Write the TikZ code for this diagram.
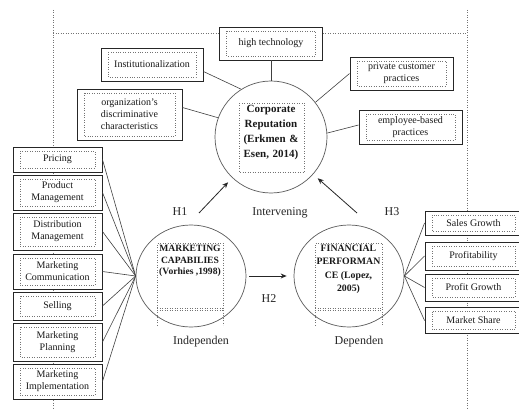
\documentclass[tikz,border=0pt]{standalone}
\usepackage{fontspec}
\setmainfont{Liberation Serif}
\usetikzlibrary{arrows.meta,shapes.geometric}
\begin{document}
\begin{tikzpicture}[x=1pt,y=-1pt,
  box/.style={draw=black!85, fill=white, line width=0.9pt, inner sep=1pt, align=center,
    font=\fontsize{10}{12}\selectfont, text=black!90,
    path picture={\draw[black!55, line width=0.45pt, dotted]
      ([xshift=7pt,yshift=-4pt]path picture bounding box.north west) rectangle
      ([xshift=-7pt,yshift=4pt]path picture bounding box.south east);}},
  sz/.style 2 args={minimum width=#1, minimum height=#2},
  link/.style={draw=black!75, line width=0.6pt},
  circ/.style={draw=black!65, line width=0.7pt, inner sep=0pt},
  dframe/.style={draw=black!55, dotted, line width=0.5pt},
  arr/.style={draw=black!85, line width=0.8pt, -{Stealth[length=6pt,width=5pt]}},
  lbl/.style={font=\fontsize{12}{14}\selectfont, text=black!85},
  ctext/.style={font=\bfseries\fontsize{11}{15}\selectfont, text=black!90, align=center, inner sep=0pt},
  stext/.style={font=\bfseries\fontsize{9.6}{11.5}\selectfont, text=black!90, align=center, inner sep=0pt}
]
\useasboundingbox (0,0) rectangle (519,409);

% dotted outer frame
\coordinate (fl1) at (53,10);
\coordinate (fl2) at (53,409);
\coordinate (fr1) at (467,10);
\coordinate (fr2) at (467,409);
\coordinate (ftl) at (53,33);
\coordinate (ftr) at (467,33);
\draw[dframe] (fl1) -- (fl2);
\draw[dframe] (fr1) -- (fr2);

% top boxes
\node[box, sz={103pt}{33pt}] (ht) at (271,43.5) {high technology};
\node[box, sz={102pt}{33pt}] (inst) at (152,64.5) {Institutionalization};
\node[box, sz={105pt}{51pt}] (org) at (129.5,114.5) {organization’s\\discriminative\\characteristics};
\node[box, sz={103pt}{33pt}] (priv) at (401.5,73.5) {private customer\\practices};
\node[box, sz={103pt}{34pt}] (emp) at (410.5,127) {employee-based\\practices};
\draw[dframe] (ftl) -- (ftl -| ht.west);
\draw[dframe] (ftr -| ht.east) -- (ftr);

% corporate reputation
\node[circle, circ, minimum size=112pt] (cr) at (271,137) {};
\draw[dframe] (239,103) rectangle (304,172);
\node[ctext, text width=64pt] (crt) at (271,133) {Corporate\\Reputation\\(Erkmen \&\\Esen, 2014)};

\draw[link] (ht) -- (cr);
\draw[link] ([yshift=-7pt]inst.east) -- (cr.122);
\draw[link] ([yshift=7pt]org.east) -- (cr.160);
\draw[link] (priv.west) -- (cr.38);
\draw[link] ([yshift=2pt]emp.west) -- (cr.4);

% marketing capabilities
\node[ellipse, circ, minimum width=110pt, minimum height=102pt] (mc) at (191,276) {};
\draw[dframe] (157,325) -- (157,243) -- (223,243) -- (223,325);
\draw[dframe] (157,308) -- (223,308);
\draw[dframe] (157,310) -- (223,310);
\node[stext] (mct) at (190,261) {MARKETING\\CAPABILIES\\(Vorhies ,1998)};

% financial performance
\node[ellipse, circ, minimum width=110pt, minimum height=102pt] (fp) at (349,276) {};
\draw[dframe] (315,325) -- (315,243) -- (382,243) -- (382,325);
\draw[dframe] (315,308) -- (382,308);
\draw[dframe] (315,310) -- (382,310);
\node[stext, font=\bfseries\fontsize{9.8}{13.5}\selectfont] (fpt) at (348.5,269.5) {FINANCIAL\\PERFORMAN\\CE (Lopez,\\2005)};

% left boxes
\node[box, sz={89pt}{25pt}] (b1) at (57.5,159.5) {Pricing};
\node[box, sz={89pt}{35pt}] (b2) at (57.5,192.5) {Product\\Management};
\node[box, sz={89pt}{37pt}] (b3) at (57.5,231.5) {Distribution\\Management};
\node[box, sz={89pt}{35pt}] (b4) at (57.5,271.5) {Marketing\\Communication};
\node[box, sz={89pt}{28pt}] (b5) at (57.5,306) {Selling};
\node[box, sz={89pt}{38pt}] (b6) at (57.5,342) {Marketing\\Planning};
\node[box, sz={89pt}{35pt}] (b7) at (57.5,381.5) {Marketing\\Implementation};
\foreach \b in {b1,b2,b3,b4,b5,b6,b7} {\draw[link] (\b.east) -- (mc.west);}

% right boxes
\node[box, sz={97pt}{24pt}] (r1) at (473.5,223) {Sales Growth};
\node[box, sz={97pt}{28pt}] (r2) at (473.5,256) {Profitability};
\node[box, sz={97pt}{27pt}] (r3) at (473.5,287.5) {Profit Growth};
\node[box, sz={97pt}{26pt}] (r4) at (473.5,320.5) {Market Share};
\foreach \r in {r1,r2,r3,r4} {\draw[link] (fp.east) -- (\r.west);}

% hypotheses
\coordinate (h1s) at (199,213);
\coordinate (h3s) at (357,213);
\draw[arr, shorten >=6pt] (h1s) -- (cr);
\draw[arr, shorten >=6pt] (h3s) -- (cr);
\draw[arr, shorten <=3pt, shorten >=7pt] (mc) -- (fp);

\node[lbl] (h1) at (180,212) {H1};
\node[lbl] (iv) at (280,213) {Intervening};
\node[lbl] (h3) at (392,212) {H3};
\node[lbl] (h2) at (269,299) {H2};
\node[lbl] (ind) at (201,342) {Independen};
\node[lbl] (dep) at (359,342) {Dependen};
\end{tikzpicture}
\end{document}
